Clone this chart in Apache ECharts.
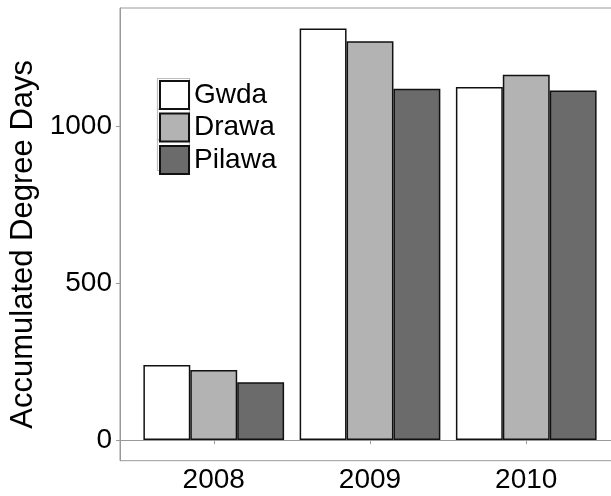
<!DOCTYPE html>
<html>
<head>
<meta charset="utf-8">
<script src="https://cdn.jsdelivr.net/npm/echarts@6/dist/echarts.min.js"></script>
<style>
  html, body { margin: 0; padding: 0; background: #fff; }
  #chart { width: 611px; height: 496px; }
</style>
</head>
<body>
<div id="chart"></div>
<script>
// Accumulated degree days per river and year
const years = ['2008', '2009', '2010'];
const gwda = [239, 1311, 1125];
const drawa = [223, 1271, 1164];
const pilawa = [184, 1119, 1114];
const yTicks = [0, 500, 1000];
const rivers = ['Gwda', 'Drawa', 'Pilawa'];

const FONT = 'Liberation Sans, Arial, Helvetica, sans-serif';
const BORDER = '#9a9a9a';

// Legend layout
const LEG_LEFT = 159, LEG_TOP = 80, KEY_W = 29, KEY_H = 28, KEY_GAP = 2.5;

// Years sit at x = 1, 2, 3 on a numeric axis padded by 0.6 on each side
const toPairs = arr => arr.map((v, i) => [i + 1, v]);
const xPositions = years.map((_, i) => i + 1);

const yMax = Math.max(...gwda, ...drawa, ...pilawa);
const pad = yMax * 0.05;

const chart = echarts.init(document.getElementById('chart'), null, { renderer: 'canvas' });

function barSeries(name, data, color) {
  return {
    name: name,
    type: 'bar',
    data: toPairs(data),
    barWidth: 46.9,
    barGap: '0%',
    itemStyle: { color: color, borderColor: '#111', borderWidth: 1.5 },
    emphasis: { disabled: true }
  };
}

// light frame drawn around each legend key
const keyFrames = rivers.map((_, i) => ({
  type: 'rect',
  silent: true,
  z: 0,
  shape: {
    x: LEG_LEFT - 1.5,
    y: LEG_TOP + i * (KEY_H + KEY_GAP) - 1.5,
    width: KEY_W + 3,
    height: KEY_H + 3
  },
  style: { fill: 'none', stroke: '#bdbdbd', lineWidth: 1.2 }
}));

chart.setOption({
  animation: false,
  backgroundColor: '#fff',
  textStyle: { fontFamily: FONT },
  grid: {
    left: 120, top: 8, width: 500, height: 452.7,
    containLabel: false,
    outerBoundsMode: 'none',
    show: true, borderColor: BORDER, borderWidth: 1, backgroundColor: 'transparent'
  },
  graphic: keyFrames,
  legend: {
    orient: 'vertical',
    left: LEG_LEFT, top: LEG_TOP,
    itemWidth: KEY_W, itemHeight: KEY_H, itemGap: KEY_GAP,
    padding: 0,
    icon: 'rect',
    textStyle: { fontFamily: FONT, fontSize: 28, color: '#000' },
    data: rivers,
    selectedMode: false
  },
  xAxis: {
    type: 'value',
    min: 0.4, max: 3.6,
    axisLine: { show: true, lineStyle: { color: BORDER, width: 1 } },
    axisTick: { show: true, customValues: xPositions, length: 4, lineStyle: { color: BORDER } },
    axisLabel: {
      customValues: xPositions,
      formatter: v => years[Math.round(v) - 1],
      fontFamily: FONT, fontSize: 28, color: '#000', margin: 6
    },
    splitLine: { show: false }
  },
  yAxis: {
    type: 'value',
    min: -pad, max: yMax + pad,
    name: 'Accumulated Degree Days',
    nameLocation: 'middle',
    nameGap: 80,
    nameTextStyle: { fontFamily: FONT, fontSize: 31, color: '#000', padding: [0, 20, 0, 0] },
    axisLine: { show: true, lineStyle: { color: BORDER, width: 1 } },
    axisTick: { show: true, customValues: yTicks, length: 4, lineStyle: { color: BORDER } },
    axisLabel: {
      customValues: yTicks,
      formatter: v => String(v),
      fontFamily: FONT, fontSize: 28, color: '#000', margin: 8
    },
    splitLine: { show: false }
  },
  series: [
    barSeries('Gwda', gwda, '#ffffff'),
    barSeries('Drawa', drawa, '#b3b3b3'),
    barSeries('Pilawa', pilawa, '#6b6b6b')
  ]
});
</script>
</body>
</html>
